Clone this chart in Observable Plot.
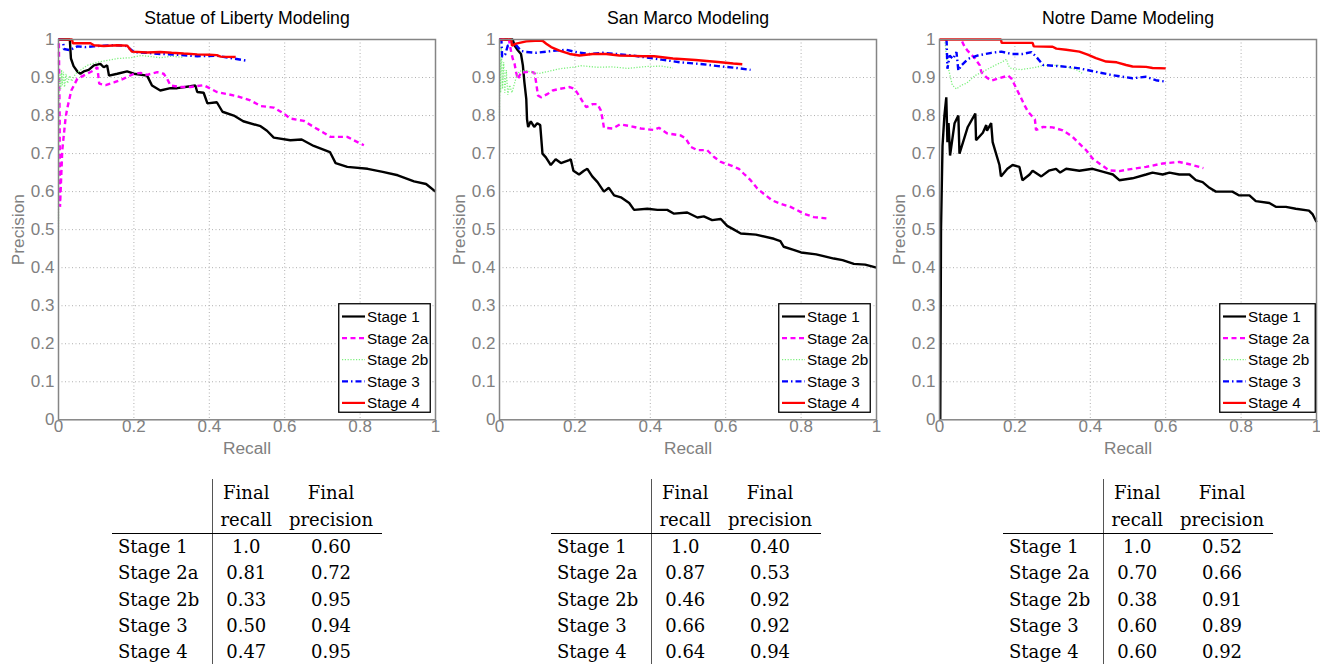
<!DOCTYPE html>
<html>
<head>
<meta charset="utf-8">
<script src="https://cdn.jsdelivr.net/npm/d3@7"></script>
<script src="https://cdn.jsdelivr.net/npm/@observablehq/plot@0.6"></script>
<style>
  html, body { margin: 0; padding: 0; background: #fff; }
  #root { position: relative; width: 1320px; height: 664px; overflow: hidden; background: #fff; }
  .panel { position: absolute; top: 0; }
  .legend { position: absolute; }
  table.res { position: absolute; border-collapse: collapse; font-family: "DejaVu Serif", serif; font-size: 18px; color: #000; }
  table.res th, table.res td { padding: 0; font-weight: normal; }
  table.res thead th { line-height: 27px; border-bottom: 1.3px solid #000; text-align: center; vertical-align: bottom; }
  table.res tbody td { line-height: 26.3px; text-align: center; }
  table.res td.lab { text-align: left; padding-left: 6px; }
  table.res .sep { border-left: 1.2px solid #555; }
</style>
</head>
<body>
<div id="root"></div>
<script>
// ---------- data ----------
const titles = ["Statue of Liberty Modeling", "San Marco Modeling", "Notre Dame Modeling"];
const stageNames = ["Stage 1", "Stage 2a", "Stage 2b", "Stage 3", "Stage 4"];
const xTicks = [0, 0.2, 0.4, 0.6, 0.8, 1];
const yTicks = [0, 0.1, 0.2, 0.3, 0.4, 0.5, 0.6, 0.7, 0.8, 0.9, 1];

// Statue of Liberty: [recall, precision]
const liberty1 = [[0,1],[0.03,1],[0.033,0.95],[0.04,0.93],[0.05,0.916],[0.058,0.91],[0.067,0.916],[0.08,0.92],[0.094,0.932],[0.111,0.936],[0.12,0.927],[0.129,0.932],[0.134,0.905],[0.156,0.91],[0.182,0.916],[0.2,0.91],[0.235,0.905],[0.248,0.879],[0.27,0.866],[0.297,0.872],[0.315,0.872],[0.35,0.877],[0.363,0.879],[0.368,0.862],[0.385,0.86],[0.395,0.832],[0.42,0.835],[0.435,0.81],[0.465,0.80],[0.49,0.785],[0.536,0.772],[0.553,0.76],[0.571,0.742],[0.615,0.735],[0.645,0.737],[0.677,0.72],[0.72,0.704],[0.735,0.675],[0.766,0.665],[0.82,0.66],[0.86,0.652],[0.90,0.643],[0.943,0.627],[0.975,0.62],[1.0,0.60]];
const liberty2a = [[0.001,0.99],[0.003,0.8],[0.004,0.56],[0.01,0.709],[0.019,0.796],[0.023,0.818],[0.034,0.866],[0.05,0.897],[0.076,0.91],[0.094,0.919],[0.103,0.927],[0.108,0.884],[0.125,0.88],[0.147,0.887],[0.173,0.897],[0.2,0.91],[0.218,0.912],[0.235,0.907],[0.262,0.914],[0.279,0.91],[0.288,0.897],[0.297,0.879],[0.324,0.875],[0.35,0.875],[0.385,0.88],[0.42,0.862],[0.474,0.851],[0.509,0.84],[0.536,0.825],[0.571,0.821],[0.598,0.805],[0.615,0.792],[0.651,0.786],[0.677,0.77],[0.70,0.757],[0.721,0.744],[0.766,0.744],[0.783,0.735],[0.81,0.722]];
const liberty2b = [[0,0.50],[0.001,0.80],[0.002,0.88],[0.004,0.91],[0.006,0.87],[0.008,0.92],[0.01,0.88],[0.013,0.915],[0.016,0.875],[0.02,0.91],[0.024,0.885],[0.03,0.905],[0.035,0.89],[0.045,0.91],[0.058,0.919],[0.076,0.932],[0.103,0.94],[0.129,0.945],[0.156,0.95],[0.19,0.952],[0.22,0.958],[0.245,0.955],[0.27,0.952],[0.3,0.956],[0.33,0.953]];
const liberty3 = [[0,1],[0.012,1],[0.014,0.975],[0.03,0.972],[0.05,0.982],[0.07,0.98],[0.094,0.982],[0.12,0.984],[0.156,0.985],[0.18,0.983],[0.2,0.967],[0.235,0.965],[0.27,0.962],[0.315,0.96],[0.368,0.956],[0.42,0.957],[0.465,0.95],[0.5,0.944]];
const liberty4 = [[0,1],[0.036,1],[0.038,0.99],[0.085,0.99],[0.094,0.985],[0.12,0.983],[0.156,0.985],[0.182,0.984],[0.195,0.968],[0.235,0.966],[0.27,0.967],[0.30,0.965],[0.332,0.963],[0.368,0.961],[0.40,0.96],[0.42,0.959],[0.43,0.955],[0.47,0.954]];

// San Marco
const sanMarco1 = [[0,1],[0.035,1],[0.04,0.984],[0.049,0.971],[0.057,0.962],[0.062,0.932],[0.066,0.888],[0.071,0.844],[0.073,0.79],[0.076,0.77],[0.083,0.785],[0.092,0.77],[0.10,0.78],[0.108,0.775],[0.114,0.70],[0.123,0.69],[0.136,0.67],[0.149,0.685],[0.163,0.675],[0.185,0.683],[0.189,0.685],[0.196,0.655],[0.211,0.645],[0.224,0.655],[0.233,0.66],[0.246,0.64],[0.26,0.625],[0.277,0.60],[0.29,0.61],[0.304,0.59],[0.322,0.585],[0.344,0.57],[0.357,0.552],[0.392,0.555],[0.419,0.552],[0.445,0.552],[0.463,0.542],[0.498,0.545],[0.525,0.532],[0.542,0.535],[0.564,0.525],[0.587,0.528],[0.604,0.51],[0.622,0.50],[0.64,0.49],[0.68,0.487],[0.728,0.476],[0.745,0.47],[0.754,0.455],[0.78,0.447],[0.80,0.44],[0.84,0.435],[0.887,0.424],[0.91,0.42],[0.94,0.41],[0.97,0.408],[1.0,0.40]];
const sanMarco2a = [[0,1],[0.025,1],[0.031,0.967],[0.035,0.95],[0.04,0.936],[0.044,0.914],[0.049,0.896],[0.057,0.914],[0.066,0.914],[0.08,0.916],[0.093,0.912],[0.097,0.888],[0.102,0.853],[0.11,0.848],[0.128,0.857],[0.141,0.866],[0.159,0.87],[0.186,0.875],[0.199,0.87],[0.208,0.857],[0.221,0.836],[0.23,0.822],[0.247,0.83],[0.26,0.83],[0.269,0.813],[0.274,0.787],[0.277,0.768],[0.30,0.766],[0.32,0.777],[0.348,0.772],[0.375,0.766],[0.41,0.762],[0.423,0.768],[0.445,0.753],[0.48,0.748],[0.494,0.74],[0.507,0.718],[0.525,0.709],[0.551,0.709],[0.569,0.691],[0.587,0.678],[0.613,0.669],[0.635,0.66],[0.648,0.647],[0.666,0.63],[0.684,0.608],[0.70,0.595],[0.723,0.577],[0.746,0.568],[0.772,0.56],[0.79,0.551],[0.807,0.542],[0.834,0.533],[0.874,0.529]];
const sanMarco2b = [[0,0.80],[0.001,0.95],[0.003,0.86],[0.005,0.98],[0.008,0.87],[0.011,0.94],[0.014,0.86],[0.018,0.92],[0.022,0.855],[0.027,0.88],[0.033,0.86],[0.04,0.885],[0.044,0.90],[0.053,0.917],[0.071,0.918],[0.088,0.913],[0.106,0.911],[0.133,0.917],[0.159,0.923],[0.194,0.927],[0.216,0.931],[0.26,0.927],[0.30,0.928],[0.34,0.924],[0.39,0.929],[0.43,0.93],[0.46,0.925]];
const sanMarco3 = [[0,1],[0.005,1],[0.007,0.955],[0.015,0.96],[0.022,0.984],[0.035,0.989],[0.045,0.984],[0.057,0.97],[0.071,0.967],[0.097,0.965],[0.124,0.968],[0.15,0.971],[0.177,0.973],[0.203,0.967],[0.239,0.962],[0.274,0.965],[0.309,0.962],[0.353,0.958],[0.38,0.954],[0.41,0.95],[0.43,0.947],[0.48,0.94],[0.54,0.935],[0.58,0.93],[0.63,0.925],[0.666,0.92]];
const sanMarco4 = [[0,1],[0.031,1],[0.033,0.984],[0.044,0.989],[0.071,0.995],[0.106,0.997],[0.115,0.996],[0.124,0.989],[0.137,0.98],[0.159,0.971],[0.186,0.962],[0.212,0.958],[0.247,0.962],[0.283,0.962],[0.318,0.958],[0.353,0.957],[0.38,0.956],[0.41,0.956],[0.46,0.95],[0.52,0.946],[0.58,0.941],[0.62,0.937],[0.644,0.935]];

// Notre Dame
const notreDame1 = [[0.002,0],[0.004,0.5],[0.008,0.72],[0.013,0.80],[0.018,0.848],[0.021,0.73],[0.024,0.78],[0.028,0.695],[0.04,0.78],[0.05,0.80],[0.053,0.70],[0.075,0.77],[0.095,0.805],[0.097,0.735],[0.115,0.755],[0.124,0.775],[0.126,0.76],[0.137,0.78],[0.141,0.73],[0.15,0.70],[0.159,0.67],[0.163,0.64],[0.18,0.66],[0.194,0.67],[0.212,0.665],[0.22,0.63],[0.239,0.645],[0.247,0.655],[0.27,0.64],[0.29,0.655],[0.309,0.66],[0.32,0.65],[0.336,0.66],[0.371,0.655],[0.406,0.66],[0.442,0.65],[0.46,0.645],[0.477,0.63],[0.512,0.635],[0.548,0.645],[0.565,0.65],[0.592,0.645],[0.61,0.65],[0.636,0.645],[0.663,0.645],[0.68,0.63],[0.698,0.625],[0.716,0.61],[0.733,0.60],[0.777,0.60],[0.795,0.59],[0.822,0.59],[0.839,0.575],[0.875,0.57],[0.892,0.56],[0.919,0.56],[0.945,0.555],[0.98,0.55],[0.99,0.54],[1.0,0.52]];
const notreDame2a = [[0.06,0.995],[0.067,0.98],[0.075,0.97],[0.094,0.95],[0.107,0.932],[0.111,0.914],[0.125,0.9],[0.138,0.892],[0.155,0.897],[0.182,0.905],[0.191,0.897],[0.2,0.879],[0.213,0.853],[0.226,0.826],[0.235,0.81],[0.253,0.79],[0.256,0.762],[0.275,0.77],[0.30,0.769],[0.327,0.761],[0.353,0.744],[0.371,0.726],[0.389,0.709],[0.406,0.687],[0.424,0.674],[0.45,0.656],[0.477,0.654],[0.512,0.66],[0.548,0.665],[0.592,0.674],[0.636,0.678],[0.663,0.672],[0.70,0.662]];
const notreDame2b = [[0.014,1.0],[0.02,0.94],[0.028,0.905],[0.034,0.88],[0.045,0.87],[0.058,0.88],[0.072,0.885],[0.094,0.905],[0.12,0.918],[0.147,0.932],[0.164,0.94],[0.178,0.948],[0.182,0.932],[0.191,0.923],[0.217,0.921],[0.244,0.925],[0.279,0.932],[0.314,0.932],[0.35,0.925],[0.367,0.919],[0.38,0.91]];
const notreDame3 = [[0.018,1.0],[0.019,0.993],[0.021,0.923],[0.027,0.958],[0.036,0.949],[0.045,0.967],[0.05,0.918],[0.058,0.932],[0.076,0.949],[0.102,0.958],[0.138,0.965],[0.164,0.968],[0.191,0.962],[0.22,0.962],[0.244,0.967],[0.257,0.954],[0.275,0.933],[0.315,0.93],[0.35,0.927],[0.371,0.924],[0.415,0.915],[0.46,0.906],[0.512,0.898],[0.548,0.902],[0.574,0.893],[0.60,0.889]];
const notreDame4 = [[0,1],[0.163,1],[0.165,0.991],[0.247,0.991],[0.25,0.982],[0.30,0.981],[0.31,0.976],[0.336,0.973],[0.371,0.968],[0.393,0.96],[0.415,0.951],[0.442,0.942],[0.47,0.94],[0.495,0.933],[0.512,0.929],[0.548,0.928],[0.565,0.925],[0.60,0.924]];

// Tables
const libertyRecall = ["1.0", "0.81", "0.33", "0.50", "0.47"];
const libertyPrecision = ["0.60", "0.72", "0.95", "0.94", "0.95"];
const sanMarcoRecall = ["1.0", "0.87", "0.46", "0.66", "0.64"];
const sanMarcoPrecision = ["0.40", "0.53", "0.92", "0.92", "0.94"];
const notreDameRecall = ["1.0", "0.70", "0.38", "0.60", "0.60"];
const notreDamePrecision = ["0.52", "0.66", "0.91", "0.89", "0.92"];

// ---------- styles ----------
const stageStyles = [
  {stroke: "#000000", strokeWidth: 2.4, dash: null},
  {stroke: "#ff00ff", strokeWidth: 2.4, dash: "5,3.5"},
  {stroke: "#7ef07e", strokeWidth: 1.3, dash: "1.2,1.6"},
  {stroke: "#0000ff", strokeWidth: 2.4, dash: "6,3,1.5,3"},
  {stroke: "#ff0000", strokeWidth: 2.4, dash: null}
];

const panels = [
  {title: titles[0], series: [liberty1, liberty2a, liberty2b, liberty3, liberty4], left: 0, width: 440, mr: 5, recall: libertyRecall, precision: libertyPrecision, tableLeft: 112, legendW: 93, legendInset: 4},
  {title: titles[1], series: [sanMarco1, sanMarco2a, sanMarco2b, sanMarco3, sanMarco4], left: 441, width: 440, mr: 5, recall: sanMarcoRecall, precision: sanMarcoPrecision, tableLeft: 551, legendW: 93, legendInset: 5},
  {title: titles[2], series: [notreDame1, notreDame2a, notreDame2b, notreDame3, notreDame4], left: 881, width: 439, mr: 4, recall: notreDameRecall, precision: notreDamePrecision, tableLeft: 1003, legendW: 97, legendInset: 0.5}
];

const root = document.getElementById("root");
const H = 460, MT = 39, MB = 40.7, ML = 58;
const grey = "#808080";
const fmt = d => String(d);

panels.forEach((p, pi) => {
  const div = document.createElement("div");
  div.className = "panel";
  div.style.left = p.left + "px";
  div.style.width = p.width + "px";
  div.style.height = H + "px";

  const lines = p.series.map((s, i) => Plot.line(s, {
    x: d => d[0], y: d => d[1],
    stroke: stageStyles[i].stroke,
    strokeWidth: stageStyles[i].strokeWidth,
    strokeDasharray: stageStyles[i].dash,
    strokeLinejoin: "miter", strokeLinecap: "butt"
  }));

  const chart = Plot.plot({
    width: p.width, height: H,
    marginTop: MT, marginBottom: MB, marginLeft: ML, marginRight: p.mr,
    x: {domain: [0, 1], label: null},
    y: {domain: [0, 1], label: null},
    style: {fontFamily: "'Liberation Sans', Arial, sans-serif", fontSize: "17px", background: "transparent", overflow: "visible"},
    marks: [
      Plot.gridX({ticks: xTicks.slice(1, -1), stroke: "#b0b0b0", strokeOpacity: 1, strokeWidth: 1, strokeDasharray: "1,2.5"}),
      Plot.gridY({ticks: yTicks.slice(1, -1), stroke: "#b0b0b0", strokeOpacity: 1, strokeWidth: 1, strokeDasharray: "1,2.5"}),
      Plot.axisX({ticks: xTicks, tickFormat: fmt, tickSize: 0, tickPadding: 0, fill: grey, fontSize: 17}),
      Plot.axisY({ticks: yTicks, tickFormat: fmt, tickSize: 0, tickPadding: 4, fill: grey, fontSize: 17}),
      ...lines,
      Plot.frame({stroke: "#858585", strokeWidth: 1.5}),
      Plot.text([p.title], {text: d => d, frameAnchor: "top", lineAnchor: "middle", dy: -21, fontSize: 17.7, fill: "#000"}),
      Plot.text(["Recall"], {text: d => d, frameAnchor: "bottom", lineAnchor: "middle", dy: 29, fontSize: 17.3, fill: grey}),
      Plot.text(["Precision"], {text: d => d, frameAnchor: "left", textAnchor: "middle", lineAnchor: "middle", dx: -40, rotate: -90, fontSize: 17.3, fill: grey})
    ]
  });
  div.appendChild(chart);

  // legend
  const lw = p.legendW, lh = 110;
  const plotRight = p.width - p.mr;
  const plotBottom = H - MB;
  const leg = d3.create("svg")
    .attr("class", "legend")
    .attr("width", lw).attr("height", lh)
    .style("left", (plotRight - p.legendInset - lw) + "px")
    .style("top", (plotBottom - 6 - lh) + "px")
    .style("position", "absolute");
  leg.append("rect").attr("x", 0.75).attr("y", 0.75).attr("width", lw - 1.5).attr("height", lh - 1.5)
    .attr("fill", "#fff").attr("stroke", "#000").attr("stroke-width", 1.3);
  stageNames.forEach((name, i) => {
    const cy = 13.5 + i * 21.6;
    const st = stageStyles[i];
    leg.append("line").attr("x1", 4).attr("x2", 27).attr("y1", cy).attr("y2", cy)
      .attr("stroke", st.stroke).attr("stroke-width", Math.min(st.strokeWidth, 2.2))
      .attr("stroke-dasharray", st.dash);
    leg.append("text").attr("x", 29).attr("y", cy).attr("dy", "0.36em")
      .attr("font-family", "'Liberation Sans', Arial, sans-serif").attr("font-size", 15.3)
      .attr("fill", "#000").text(name);
  });
  div.appendChild(leg.node());
  root.appendChild(div);

  // table
  const table = d3.create("table").attr("class", "res")
    .style("left", p.tableLeft + "px").style("top", "479px");
  const colgroup = table.append("colgroup");
  colgroup.append("col").style("width", "100px");
  colgroup.append("col").style("width", "68px");
  colgroup.append("col").style("width", "102px");
  const hr = table.append("thead").append("tr");
  hr.append("th").html("&nbsp;<br>&nbsp;");
  hr.append("th").attr("class", "sep").html("Final<br>recall");
  hr.append("th").html("Final<br>precision");
  const tb = table.append("tbody");
  stageNames.forEach((name, i) => {
    const tr = tb.append("tr");
    tr.append("td").attr("class", "lab").text(name);
    tr.append("td").attr("class", "sep").text(p.recall[i]);
    tr.append("td").text(p.precision[i]);
  });
  root.appendChild(table.node());
});
</script>
</body>
</html>
